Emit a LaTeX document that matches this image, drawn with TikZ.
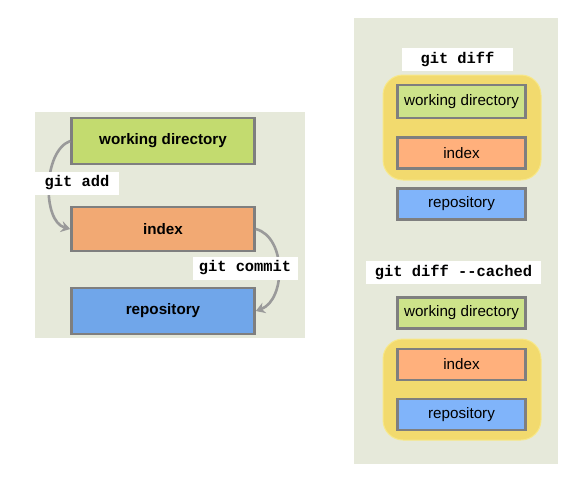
\documentclass[tikz,border=0pt]{standalone}
\usepackage{fontspec}
\setmainfont{Liberation Sans}
\newfontfamily\gitfont{Liberation Mono}
\usetikzlibrary{arrows.meta}

\definecolor{panelbg}{HTML}{E6E9DA}
\definecolor{boxline}{HTML}{7F7F7F}
\definecolor{wdgreen}{HTML}{C3DB6F}
\definecolor{idxorange}{HTML}{F2A973}
\definecolor{repoblue}{HTML}{70A6EA}
\definecolor{wdgreenlt}{HTML}{CDE38A}
\definecolor{idxorangelt}{HTML}{FFB07C}
\definecolor{repobluelt}{HTML}{80B4FA}
\definecolor{hlyellow}{HTML}{F2DA6E}
\definecolor{hlborder}{HTML}{F7E888}
\definecolor{flowgray}{HTML}{9A9A9A}

\tikzset{
  stage/.style={draw=boxline, line width=2.6pt, minimum width=183pt,
    font=\bfseries\fontsize{15.2}{17}\selectfont, inner sep=0pt},
  smallstage/.style={draw=boxline, line width=2.4pt, minimum width=128pt,
    minimum height=31pt, font=\fontsize{15.2}{17}\selectfont, inner sep=0pt},
  cmd/.style={fill=white, font=\gitfont\bfseries\fontsize{15.4}{17}\selectfont,
    inner sep=0pt, minimum height=23pt},
  highlight/.style={fill=hlyellow, draw=hlborder, line width=1pt,
    rounded corners=20pt},
  flow/.style={draw=flowgray, line width=2.6pt, -{Stealth[length=9pt,width=11pt]}}
}

\begin{document}
\begin{tikzpicture}[x=1pt, y=-1pt]
\useasboundingbox (0,0) rectangle (581,482);

% left panel
\fill[panelbg] (35,112) rectangle (305,338);
\node[stage, fill=wdgreen, minimum height=46pt] (wd) at (163,141) {working directory};
\node[stage, fill=idxorange, minimum height=44pt] (idx) at (163,229) {index};
\node[stage, fill=repoblue, minimum height=46pt] (repo) at (163,311) {repository};

\draw[flow] (wd.west) to[out=200, in=165, looseness=0.85] (idx.west);
\draw[flow] (idx.east) to[out=-15, in=20] (repo.east);

\node[cmd, minimum width=84pt] (add) at (77,183) {git add};
\node[cmd, minimum width=105pt] (commit) at (245,268) {git commit};

% right panel
\fill[panelbg] (354,18) rectangle (558,464);

\node[cmd, minimum width=111pt] (diff) at (457.5,59.5) {git diff};
\node[highlight, minimum width=158pt, minimum height=105pt] (hlwork) at (462,127.5) {};
\node[smallstage, fill=wdgreenlt, minimum height=33pt] (wdA) at (461.5,101.5) {working directory};
\node[smallstage, fill=idxorangelt] (idxA) at (461.5,153) {index};
\node[smallstage, fill=repobluelt] (repoA) at (461.5,204) {repository};

\node[cmd, minimum width=175pt] (cached) at (453.5,272.5) {git diff -{}-cached};
\node[smallstage, fill=wdgreenlt] (wdB) at (461.5,313) {working directory};
\node[highlight, minimum width=158pt, minimum height=101pt] (hlrepo) at (462,389.5) {};
\node[smallstage, fill=idxorangelt] (idxB) at (461.5,364.5) {index};
\node[smallstage, fill=repobluelt] (repoB) at (461.5,414.5) {repository};
\end{tikzpicture}
\end{document}
